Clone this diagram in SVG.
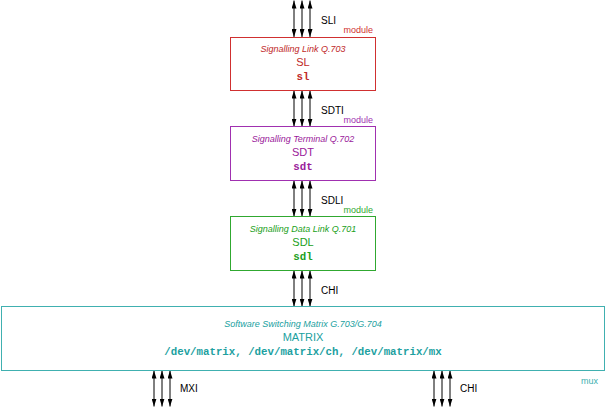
<svg xmlns="http://www.w3.org/2000/svg" width="606" height="407" viewBox="0 0 606 407">
<defs>
<marker id="ah" viewBox="0 0 8 5" refX="8" refY="2.5" markerWidth="8" markerHeight="5" markerUnits="userSpaceOnUse" orient="auto-start-reverse">
<path d="M0,0 L8,2.5 L0,5 z" fill="#000"/>
</marker>
<style>
.box{fill:#fff;stroke-width:1}
.t{font-family:"Liberation Sans",Arial,sans-serif;font-style:italic;font-size:9px;text-anchor:middle}
.n{font-family:"Liberation Sans",Arial,sans-serif;font-size:11px;text-anchor:middle}
.m{font-family:"Liberation Mono","Courier New",monospace;font-weight:bold;font-size:10.75px;text-anchor:middle}
.lbl{font-family:"Liberation Sans",Arial,sans-serif;font-size:10px;fill:#000}
.mod{font-family:"Liberation Sans",Arial,sans-serif;font-size:9px;text-anchor:end}
.c line{stroke:#000;stroke-width:1;marker-start:url(#ah);marker-end:url(#ah)}
</style>
</defs>
<rect width="606" height="407" fill="#fff"/>
<g id="connectors" class="c">
<line x1="294" y1="0.5" x2="294" y2="37"/><line x1="302" y1="0.5" x2="302" y2="37"/><line x1="310" y1="0.5" x2="310" y2="37"/>
<line x1="294" y1="90.5" x2="294" y2="126.5"/><line x1="302" y1="90.5" x2="302" y2="126.5"/><line x1="310" y1="90.5" x2="310" y2="126.5"/>
<line x1="294" y1="180.5" x2="294" y2="216.5"/><line x1="302" y1="180.5" x2="302" y2="216.5"/><line x1="310" y1="180.5" x2="310" y2="216.5"/>
<line x1="294" y1="270.5" x2="294" y2="306.5"/><line x1="302" y1="270.5" x2="302" y2="306.5"/><line x1="310" y1="270.5" x2="310" y2="306.5"/>
<line x1="154" y1="370.5" x2="154" y2="406.5"/><line x1="162" y1="370.5" x2="162" y2="406.5"/><line x1="170" y1="370.5" x2="170" y2="406.5"/>
<line x1="434" y1="370.5" x2="434" y2="406.5"/><line x1="442" y1="370.5" x2="442" y2="406.5"/><line x1="450" y1="370.5" x2="450" y2="406.5"/>
</g>
<g id="labels">
<text class="lbl" x="321" y="24">SLI</text>
<text class="lbl" x="321" y="114">SDTI</text>
<text class="lbl" x="321" y="204">SDLI</text>
<text class="lbl" x="321" y="294">CHI</text>
<text class="lbl" x="180" y="392">MXI</text>
<text class="lbl" x="460" y="392">CHI</text>
</g>
<g id="SL">
<rect class="box" x="230.5" y="37.5" width="145" height="53" stroke="#d03030"/>
<text class="mod" x="373" y="33" fill="#d03030">module</text>
<text class="t" x="303" y="52" fill="#c02828">Signalling Link Q.703</text>
<text class="n" x="303" y="66" fill="#c02828">SL</text>
<text class="m" x="303" y="80" fill="#c02828">sl</text>
</g>
<g id="SDT">
<rect class="box" x="230.5" y="126.5" width="145" height="54" stroke="#a030b0"/>
<text class="mod" x="373" y="123" fill="#a030b0">module</text>
<text class="t" x="303" y="141.5" fill="#9a209a">Signalling Terminal Q.702</text>
<text class="n" x="303" y="155.5" fill="#9a209a">SDT</text>
<text class="m" x="303" y="169.5" fill="#9a209a">sdt</text>
</g>
<g id="SDL">
<rect class="box" x="230.5" y="216.5" width="145" height="54" stroke="#30a830"/>
<text class="mod" x="373" y="213" fill="#30a830">module</text>
<text class="t" x="303" y="231.5" fill="#20a020">Signalling Data Link Q.701</text>
<text class="n" x="303" y="245.5" fill="#20a020">SDL</text>
<text class="m" x="303" y="259.5" fill="#20a020">sdl</text>
</g>
<g id="MATRIX">
<rect class="box" x="1.5" y="306.5" width="603" height="64" stroke="#40b0b0"/>
<text class="mod" x="598" y="384" fill="#40b0b0">mux</text>
<text class="t" x="303" y="327" fill="#20a0a0">Software Switching Matrix G.703/G.704</text>
<text class="n" x="303" y="341" fill="#20a0a0">MATRIX</text>
<text class="m" x="303" y="355" fill="#20a0a0">/dev/matrix, /dev/matrix/ch, /dev/matrix/mx</text>
</g>
</svg>
